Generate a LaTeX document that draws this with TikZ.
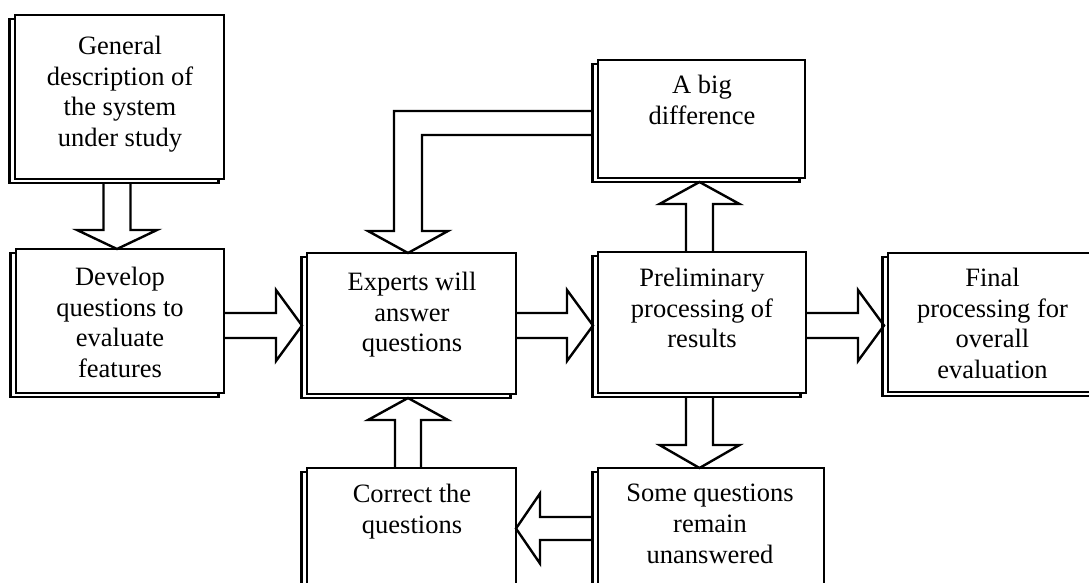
\documentclass[tikz,border=0pt]{standalone}
\usepackage{fontspec}
\setmainfont{Liberation Serif}
\usetikzlibrary{calc,shadows}
\tikzset{
  box/.style={draw, fill=white, line width=2.4pt, rectangle, inner sep=0pt, outer sep=0pt,
    copy shadow={shadow xshift=-5.5pt, shadow yshift=-4pt, draw=black, fill=white, line width=2.4pt}},
  lbl/.style={anchor=north, align=center, inner sep=0pt,
    font=\fontsize{26.5}{30.7}\selectfont},
  barrow/.style={draw, line width=2.4pt, line join=miter}
}
\begin{document}
\begin{tikzpicture}[x=1pt,y=-1pt]
\useasboundingbox (0,0) rectangle (1089,583);
\clip (0,0) rectangle (1089,583);
% boxes
\node[box, minimum width=209pt, minimum height=164pt] (b1) at (119.5,97) {};
\node[box, minimum width=208pt, minimum height=144pt] (b2) at (120,321) {};
\node[box, minimum width=209pt, minimum height=141pt] (b3) at (411.5,323.5) {};
\node[box, minimum width=208pt, minimum height=141pt] (b4) at (702,322.5) {};
\node[box, minimum width=207pt, minimum height=118pt] (b5) at (701.5,119) {};
\node[box, minimum width=230pt, minimum height=139pt] (b6) at (1003,322.5) {};
\node[box, minimum width=209pt, minimum height=172pt] (b7) at (411.5,554) {};
\node[box, minimum width=226pt, minimum height=172pt] (b8) at (711,554) {};
% labels
\node[lbl] (t1) at ($(b1.north)+(0.5,21)$) {General\\description of\\the system\\under study};
\node[lbl] (t2) at ($(b2.north)+(0,18)$) {Develop\\questions to\\evaluate\\features};
\node[lbl] (t3) at ($(b3.north)+(0.5,19)$) {Experts will\\answer\\questions};
\node[lbl] (t4) at ($(b4.north)+(0,16)$) {Preliminary\\processing of\\results};
\node[lbl] (t5) at ($(b5.north)+(0.5,15)$) {A big\\difference};
\node[lbl] (t6) at ($(b6.north)+(-10.5,15)$) {Final\\processing for\\overall\\evaluation};
\node[lbl] (t7) at ($(b7.north)+(0.5,16)$) {Correct the\\questions};
\node[lbl] (t8) at ($(b8.north)+(-1,16)$) {Some questions\\remain\\unanswered};
% arrow anchor points
\coordinate (P1) at ($(b1.south)+(-2.5,4)$);
\coordinate (T1) at (P1 |- b2.north);
\coordinate (P2) at ($(b2.east)+(0,4.5)$);
\coordinate (T2) at ($(P2 -| b3.west)+(-5,0)$);
\coordinate (P3) at ($(b3.east)+(0,2)$);
\coordinate (T3) at ($(P3 -| b4.west)+(-5,0)$);
\coordinate (P4) at ($(b4.east)+(0,3)$);
\coordinate (T4) at ($(P4 -| b6.west)+(-4,0)$);
\coordinate (P5) at ($(b4.north)+(-2.5,0)$);
\coordinate (T5) at ($(P5 |- b5.south)+(0,4)$);
\coordinate (P6) at ($(b4.south)+(-2.5,4)$);
\coordinate (T6) at (P6 |- b8.north);
\coordinate (P7) at ($(b7.north)+(-3.5,0)$);
\coordinate (T7) at ($(P7 |- b3.south)+(0,4)$);
\coordinate (P8) at ($(b8.west)+(-5,-25.5)$);
\coordinate (T8) at (P8 -| b7.east);
\coordinate (P9) at ($(b5.west)+(-5,4)$);
\coordinate (T9) at ($(b3.north)+(-3.5,0)$);
\coordinate (C9) at (T9 |- P9);
% down arrow b1 -> b2
\draw[barrow] ($(P1)+(-13.5,0)$) -- ($(T1)+(-13.5,-19)$) -- ($(T1)+(-40,-19)$) -- (T1)
  -- ($(T1)+(40,-19)$) -- ($(T1)+(13.5,-19)$) -- ($(P1)+(13.5,0)$);
% right arrows
\draw[barrow] ($(P2)+(0,-12.5)$) -- ($(T2)+(-26,-12.5)$) -- ($(T2)+(-26,-35.5)$) -- (T2)
  -- ($(T2)+(-26,35.5)$) -- ($(T2)+(-26,12.5)$) -- ($(P2)+(0,12.5)$);
\draw[barrow] ($(P3)+(0,-12.5)$) -- ($(T3)+(-26,-12.5)$) -- ($(T3)+(-26,-35.5)$) -- (T3)
  -- ($(T3)+(-26,35.5)$) -- ($(T3)+(-26,12.5)$) -- ($(P3)+(0,12.5)$);
\draw[barrow] ($(P4)+(0,-12.5)$) -- ($(T4)+(-26,-12.5)$) -- ($(T4)+(-26,-35.5)$) -- (T4)
  -- ($(T4)+(-26,35.5)$) -- ($(T4)+(-26,12.5)$) -- ($(P4)+(0,12.5)$);
% up arrow b4 -> b5
\draw[barrow] ($(P5)+(-13.5,0)$) -- ($(T5)+(-13.5,22)$) -- ($(T5)+(-40,22)$) -- (T5)
  -- ($(T5)+(40,22)$) -- ($(T5)+(13.5,22)$) -- ($(P5)+(13.5,0)$);
% down arrow b4 -> b8
\draw[barrow] ($(P6)+(-13.5,0)$) -- ($(T6)+(-13.5,-23)$) -- ($(T6)+(-40,-23)$) -- (T6)
  -- ($(T6)+(40,-23)$) -- ($(T6)+(13.5,-23)$) -- ($(P6)+(13.5,0)$);
% up arrow b7 -> b3
\draw[barrow] ($(P7)+(-13,0)$) -- ($(T7)+(-13,22)$) -- ($(T7)+(-40,22)$) -- (T7)
  -- ($(T7)+(40,22)$) -- ($(T7)+(13,22)$) -- ($(P7)+(13,0)$);
% left arrow b8 -> b7
\draw[barrow] ($(P8)+(0,-11.5)$) -- ($(T8)+(24,-11.5)$) -- ($(T8)+(24,-35)$) -- (T8)
  -- ($(T8)+(24,35)$) -- ($(T8)+(24,11.5)$) -- ($(P8)+(0,11.5)$);
% bent arrow b5 -> b3
\draw[barrow] ($(P9)+(0,-12)$) -- ($(C9)+(-14,-12)$) -- ($(T9)+(-14,-22)$) -- ($(T9)+(-40,-22)$) -- (T9)
  -- ($(T9)+(40,-22)$) -- ($(T9)+(14,-22)$) -- ($(C9)+(14,12)$) -- ($(P9)+(0,12)$);
\end{tikzpicture}
\end{document}
